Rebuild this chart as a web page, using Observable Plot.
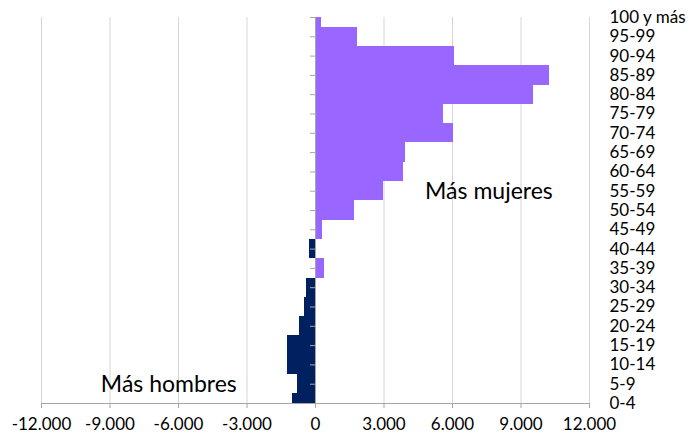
<!DOCTYPE html>
<html><head><meta charset="utf-8">
<script src="https://cdn.jsdelivr.net/npm/d3@7"></script>
<script src="https://cdn.jsdelivr.net/npm/@observablehq/plot@0.6"></script>
<style>body{margin:0;background:#fff}</style>
</head><body><div id="chart"></div>
<script>
const ageGroups = ["0-4","5-9","10-14","15-19","20-24","25-29","30-34","35-39","40-44","45-49","50-54","55-59","60-64","65-69","70-74","75-79","80-84","85-89","90-94","95-99","100 y más"];
const differences = [-1010,-800,-1210,-1210,-710,-470,-380,380,-260,310,1710,2980,3840,3960,6040,5590,9530,10240,6070,1850,250];
const xTicks = [-12000,-9000,-6000,-3000,0,3000,6000,9000,12000];
const noteLabels = ["Más mujeres","Más hombres"];
const noteX = [4800,-9400];
const noteGroups = ["55-59","5-9"];

const data = ageGroups.map((g, i) => ({group: g, i, v: differences[i]}));
const notes = noteLabels.map((t, k) => ({label: t, x: noteX[k], i: ageGroups.indexOf(noteGroups[k])}));
const loc = d3.formatLocale({decimal: ",", thousands: ".", grouping: [3], currency: ["", " €"], minus: "-"});
const fmt = loc.format(",d");

const W = 690, H = 434, mL = 41, mR = 101, mT = 17, mB = 31;
const zeroOffset = (W - mL - mR) / 2;
const font = "Lato, 'Open Sans', sans-serif";

const chart = Plot.plot({
  width: W, height: H,
  marginLeft: mL, marginRight: mR, marginTop: mT, marginBottom: mB,
  style: {fontFamily: font, fontSize: "17px", color: "#000", background: "#fff"},
  x: {domain: [-12000, 12000], ticks: xTicks, tickFormat: fmt},
  y: {domain: [0, ageGroups.length - 1], ticks: d3.range(ageGroups.length), tickFormat: i => ageGroups[i]},
  marks: [
    Plot.gridX(xTicks, {stroke: "#d6d6d6", strokeOpacity: 1}),
    Plot.rect(data, {x1: 0, x2: "v", y1: d => d.i - 0.5, y2: d => d.i + 0.5, fill: d => d.v < 0 ? "#002060" : "#9966ff", clip: true, shapeRendering: "crispEdges"}),
    Plot.ruleX([0], {stroke: "#a6a6a6"}),
    Plot.frame({anchor: "bottom", stroke: "#a6a6a6"}),
    Plot.axisX({ticks: xTicks, tickFormat: fmt, tickSize: 5, tickPadding: 9, stroke: "#a6a6a6", fontSize: 17, label: null, fill: "#000"}),
    Plot.axisY({anchor: "left", ticks: d3.range(ageGroups.length), tickSize: 5, tickFormat: () => "", dx: zeroOffset, stroke: "#a6a6a6", label: null}),
    Plot.axisY({anchor: "right", ticks: d3.range(ageGroups.length), tickFormat: i => ageGroups[i], tickSize: 0, tickPadding: 20, fontSize: 17, label: null, fill: "#000"}),
    Plot.text(notes, {x: "x", y: "i", text: "label", textAnchor: "start", fontSize: 23, fill: "#000"})
  ]
});
document.getElementById("chart").appendChild(chart);
</script>
</body></html>
